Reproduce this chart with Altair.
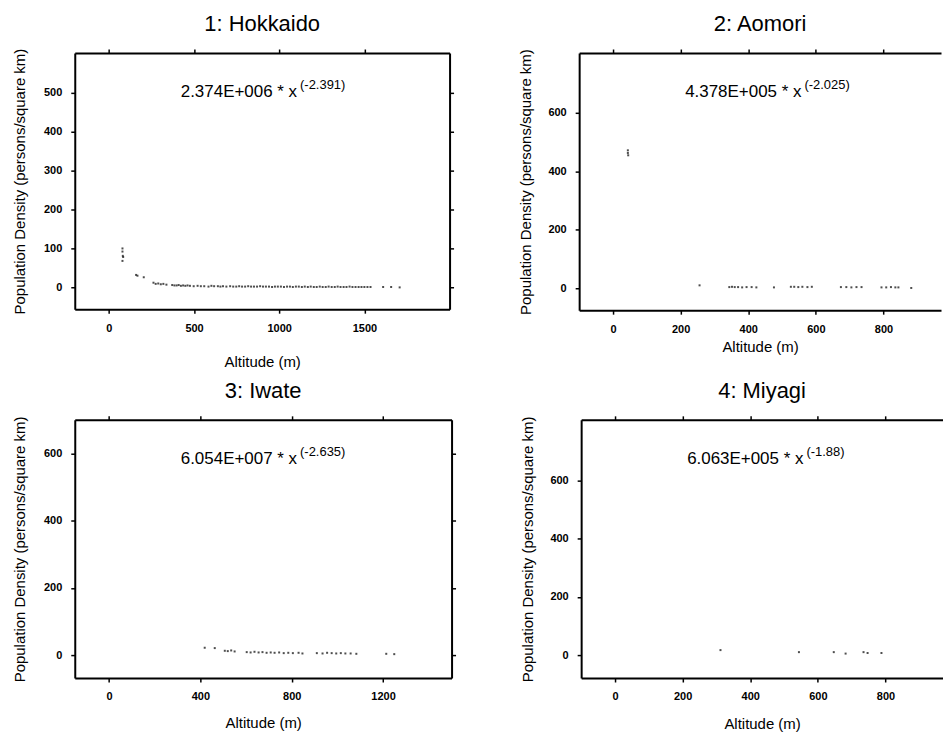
import altair as alt
import pandas as pd

# ---------------- data ----------------
titles = ["1: Hokkaido", "2: Aomori", "3: Iwate", "4: Miyagi"]
coef_labels = ["2.374E+006 * x", "4.378E+005 * x", "6.054E+007 * x", "6.063E+005 * x"]
expo_labels = ["(-2.391)", "(-2.025)", "(-2.635)", "(-1.88)"]

hok_alt = [80, 80, 82, 84, 80, 160, 168, 205, 262, 275, 290, 305, 320, 338,
           372, 385, 398, 410, 423, 436, 449, 462, 476, 498,
           521, 540, 560, 585, 602, 618, 640, 655, 670, 690,
           712, 730, 748, 765, 782, 800, 818, 835, 852, 870,
           888, 905, 922, 940, 958, 975, 992, 1010, 1028, 1046,
           1063, 1080, 1098, 1115, 1133, 1150, 1168, 1185, 1203, 1220,
           1238, 1255, 1273, 1290, 1308, 1326, 1343, 1360, 1378, 1395,
           1413, 1430, 1448, 1466, 1483, 1500, 1518, 1536,
           1610, 1657, 1707]
hok_den = [100, 92, 81, 78, 68, 32, 30, 26, 12, 9, 10, 8, 9, 7,
           6, 5, 5, 6, 4, 5, 4, 5, 4, 3,
           4, 3, 3, 2, 4, 3, 3, 2, 3, 2,
           3, 2, 2, 3, 2, 2, 3, 2, 2, 2,
           3, 2, 2, 2, 1, 2, 2, 2, 1, 2,
           2, 1, 2, 2, 1, 2, 1, 2, 1, 1,
           2, 1, 1, 2, 1, 1, 2, 1, 1, 1,
           2, 1, 1, 1, 1, 1, 1, 1,
           1, 1, 0]

aom_alt = [44, 44, 45, 256, 344, 352, 360, 370, 382, 395, 410, 424, 476,
           526, 536, 548, 560, 575, 588, 674, 690, 705, 720, 735,
           794, 808, 822, 835, 844, 882]
aom_den = [472, 463, 455, 10, 4, 5, 4, 4, 3, 4, 4, 3, 3,
           5, 5, 4, 5, 4, 5, 4, 4, 3, 4, 4,
           3, 3, 4, 3, 3, 1]

iwa_alt = [419, 463, 507, 520, 535, 550, 603, 620, 637, 655, 672, 690, 708,
           725, 745, 765, 785, 805, 830, 847, 910, 935, 955, 975, 995,
           1015, 1035, 1058, 1083, 1214, 1249]
iwa_den = [22, 21, 13, 12, 14, 11, 9, 8, 10, 8, 9, 7, 8,
           7, 8, 6, 7, 6, 7, 5, 6, 5, 7, 6, 5,
           6, 5, 5, 4, 4, 3]

miy_alt = [312, 544, 647, 682, 735, 747, 788]
miy_den = [17, 10, 10, 5, 10, 7, 7]

FONT = "Liberation Sans"
YTITLE = "Population Density (persons/square km)"
XTITLE = "Altitude (m)"


def panel(alts, dens, i, xdom, xticks, ydom, yticks, w, h, right_axis, xtpad, ytpad):
    df = pd.DataFrame({"alt": alts, "dens": dens})
    xs = alt.Scale(domain=xdom, nice=False, zero=False)
    ys = alt.Scale(domain=ydom, nice=False, zero=False)
    pts = alt.Chart(df).mark_square(size=4, color="#222222", opacity=0.8).encode(
        x=alt.X("alt:Q", scale=xs,
                axis=alt.Axis(orient="bottom", values=xticks, format="d",
                              title=XTITLE, titlePadding=xtpad)),
        y=alt.Y("dens:Q", scale=ys,
                axis=alt.Axis(orient="left", values=yticks, format="d",
                              title=YTITLE, titlePadding=ytpad)),
    )
    frame = alt.Chart(df).mark_square(size=4, opacity=0).encode(
        x=alt.X("alt:Q", scale=xs,
                axis=alt.Axis(orient="top", values=xticks, labels=False, title=None)),
        y=alt.Y("dens:Q", scale=ys,
                axis=(alt.Axis(orient="right", values=yticks, labels=False, title=None)
                      if right_axis else None)),
    )
    tdf = pd.DataFrame({"main": [coef_labels[i]], "sup": [expo_labels[i]]})
    main = alt.Chart(tdf).mark_text(align="right", baseline="alphabetic", font=FONT,
                                    fontSize=17, color="black").encode(
        x=alt.value(223), y=alt.value(44), text="main:N")
    sup = alt.Chart(tdf).mark_text(align="left", baseline="alphabetic", font=FONT,
                                   fontSize=13, color="black").encode(
        x=alt.value(226), y=alt.value(36), text="sup:N")
    return alt.layer(pts, frame, main, sup).resolve_axis(
        x="independent", y="independent"
    ).properties(
        width=w, height=h,
        title=alt.TitleParams(titles[i], fontSize=22, font=FONT, fontWeight="normal",
                              color="black", offset=12),
    )


p1 = panel(hok_alt, hok_den, 0, [-200, 2000], [0, 500, 1000, 1500],
           [-56, 602], [0, 100, 200, 300, 400, 500], 376, 257, True, 22, 16)
p2 = panel(aom_alt, aom_den, 1, [-100, 970], [0, 200, 400, 600, 800],
           [-75, 805], [0, 200, 400, 600], 363, 258, False, 5, 14)
p3 = panel(iwa_alt, iwa_den, 2, [-150, 1500], [0, 400, 800, 1200],
           [-68, 700], [0, 200, 400, 600], 378, 259, True, 14, 16)
p4 = panel(miy_alt, miy_den, 3, [-100, 970], [0, 200, 400, 600, 800],
           [-79, 809], [0, 200, 400, 600], 363, 259, False, 15, 14)

chart = alt.vconcat(
    alt.hconcat(p1, p2, spacing=64),
    alt.hconcat(p3, p4, spacing=64),
    spacing=10,
).properties(
    padding={"left": 12, "top": 12, "right": 0, "bottom": 0},
    background="white",
).configure_view(stroke=None).configure_axis(
    domainColor="black", domainWidth=2, tickColor="black", tickSize=4, tickWidth=1.5,
    grid=False, labelFont=FONT, labelFontSize=11, labelFontWeight="bold",
    labelColor="black", labelPadding=9, titleFont=FONT, titleFontSize=15,
    titleFontWeight="normal", titleColor="black",
)

chart.save("out.html", embed_options={"renderer": "svg", "actions": False})
